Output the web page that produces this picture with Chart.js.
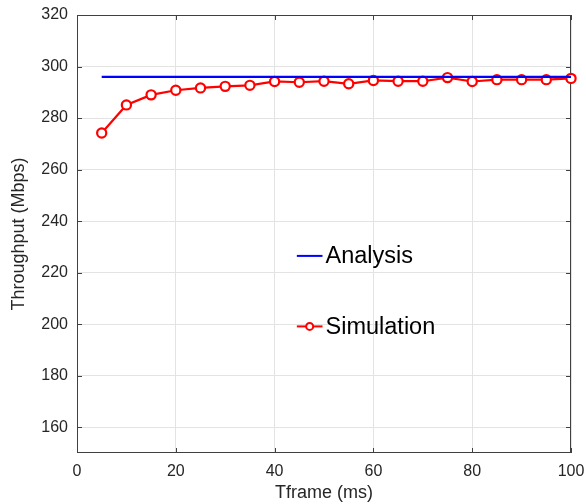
<!DOCTYPE html>
<html>
<head>
<meta charset="utf-8">
<script src="https://cdn.jsdelivr.net/npm/chart.js@4.4.0/dist/chart.umd.min.js"></script>
<style>
    html, body { margin: 0; padding: 0; background: #fff; }
    #wrap { width: 586px; height: 504px; position: relative; }
</style>
</head>
<body>
<div id="wrap"><canvas id="grafico"></canvas></div>
<script>
// Datos
const tframe = [5, 10, 15, 20, 25, 30, 35, 40, 45, 50, 55, 60, 65, 70, 75, 80, 85, 90, 95, 100];
const analysis = [296, 296, 296, 296, 296, 296, 296, 296, 296, 296, 296, 296, 296, 296, 296, 296, 296, 296, 296, 296];
const simulation = [274.2, 285.1, 289.0, 290.8, 291.7, 292.3, 292.7, 294.2, 293.9, 294.3, 293.3, 294.6, 294.3, 294.3, 295.7, 294.2, 294.9, 294.9, 294.9, 295.4];
const xTicks = [0, 20, 40, 60, 80, 100];
const yTicks = [160, 180, 200, 220, 240, 260, 280, 300, 320];

const fuente = '"Liberation Sans", Arial, sans-serif';
const colorEje = '#404040';

// Marco con marcas hacia dentro (estilo MATLAB) y leyenda dentro del area
const marcoPlugin = {
    id: 'marco',
    beforeDatasetsDraw(chart) {
        const a = chart.chartArea;
        const ctx = chart.ctx;
        const xs = chart.scales.x, ys = chart.scales.y;
        ctx.save();
        ctx.strokeStyle = colorEje;
        ctx.lineWidth = 1;
        ctx.strokeRect(a.left + 0.5, a.top + 0.5, a.right - a.left - 1, a.bottom - a.top - 1);
        const len = 5;
        ctx.beginPath();
        xTicks.forEach(function(v) {
            const px = Math.round(xs.getPixelForValue(v)) + 0.5;
            ctx.moveTo(px, a.bottom); ctx.lineTo(px, a.bottom - len);
            ctx.moveTo(px, a.top); ctx.lineTo(px, a.top + len);
        });
        yTicks.forEach(function(v) {
            const py = Math.round(ys.getPixelForValue(v)) + 0.5;
            ctx.moveTo(a.left, py); ctx.lineTo(a.left + len, py);
            ctx.moveTo(a.right, py); ctx.lineTo(a.right - len, py);
        });
        ctx.stroke();
        ctx.restore();
    },
    afterDraw(chart) {
        const a = chart.chartArea;
        const ctx = chart.ctx;
        const w = a.right - a.left, h = a.bottom - a.top;
        const x0 = a.left + w * 0.445;
        const x1 = a.left + w * 0.497;
        const filas = [
            { texto: 'Analysis', color: '#0000ff', y: a.top + h * 0.55, marcador: false },
            { texto: 'Simulation', color: '#ff0000', y: a.top + h * 0.711, marcador: true }
        ];
        ctx.save();
        filas.forEach(function(f) {
            ctx.strokeStyle = f.color;
            ctx.lineWidth = 2;
            ctx.beginPath();
            ctx.moveTo(x0, f.y); ctx.lineTo(x1, f.y);
            ctx.stroke();
            if (f.marcador) {
                ctx.beginPath();
                ctx.arc((x0 + x1) / 2, f.y, 3.5, 0, Math.PI * 2);
                ctx.fillStyle = '#fff';
                ctx.fill();
                ctx.stroke();
            }
            ctx.fillStyle = '#000';
            ctx.font = '23.5px ' + fuente;
            ctx.textBaseline = 'middle';
            ctx.textAlign = 'left';
            ctx.fillText(f.texto, x1 + 3, f.y + 1);
        });
        ctx.restore();
    }
};

var ctx = document.getElementById('grafico').getContext('2d');
var grafico = new Chart(ctx, {
    type: 'line',
    data: {
        datasets: [
            {
                label: 'Analysis',
                data: tframe.map(function(t, i) { return { x: t, y: analysis[i] }; }),
                borderColor: '#0000ff',
                borderWidth: 2.2,
                pointRadius: 0,
                fill: false,
                clip: false
            },
            {
                label: 'Simulation',
                data: tframe.map(function(t, i) { return { x: t, y: simulation[i] }; }),
                borderColor: '#ff0000',
                borderWidth: 2.2,
                pointRadius: 4.6,
                pointBorderWidth: 2.2,
                pointBorderColor: '#ff0000',
                pointBackgroundColor: '#ffffff',
                fill: false,
                clip: false
            }
        ]
    },
    options: {
        responsive: true,
        maintainAspectRatio: false,
        animation: false,
        layout: { padding: { top: 15, right: 15, left: 0, bottom: 0 } },
        plugins: {
            legend: { display: false },
            tooltip: { enabled: false }
        },
        scales: {
            x: {
                type: 'linear',
                min: 0,
                max: 100,
                afterBuildTicks: function(scale) { scale.ticks = xTicks.map(function(v) { return { value: v }; }); },
                afterFit: function(scale) { scale.height = 51; scale.paddingLeft = 0; scale.paddingRight = 0; },
                grid: { color: '#e3e3e3', drawTicks: false },
                border: { display: false },
                ticks: { color: '#262626', font: { family: fuente, size: 16 }, padding: 9, maxRotation: 0 },
                title: { display: true, text: 'Tframe (ms)', color: '#262626', font: { family: fuente, size: 18 }, padding: { top: 0, bottom: 0 } }
            },
            y: {
                min: 150,
                max: 320,
                afterBuildTicks: function(scale) { scale.ticks = yTicks.map(function(v) { return { value: v }; }); },
                afterFit: function(scale) { scale.width = 77; scale.paddingTop = 0; scale.paddingBottom = 0; },
                grid: { color: '#e3e3e3', drawTicks: false },
                border: { display: false },
                ticks: { color: '#262626', font: { family: fuente, size: 16 }, padding: 9 },
                title: { display: true, text: 'Throughput (Mbps)', color: '#262626', font: { family: fuente, size: 18 }, padding: { top: 8, bottom: 0 } }
            }
        }
    },
    plugins: [marcoPlugin]
});
</script>
</body>
</html>
